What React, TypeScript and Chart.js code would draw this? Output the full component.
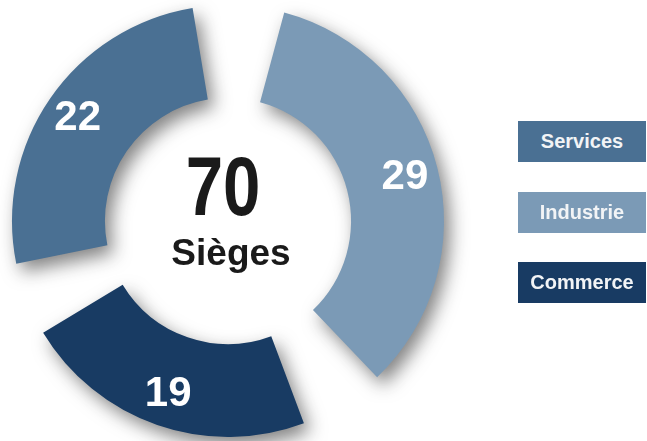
import React, { useEffect, useRef } from "react";
import { Chart, registerables } from "chart.js";

Chart.register(...registerables);

const categories = ["Services", "Industrie", "Commerce"];
const seats = [22, 29, 19];
const colors = ["#4a7093", "#7b9ab6", "#183b63"];
const centerCaption = "Sièges";

const FONT = "'Liberation Sans', Arial, Helvetica, sans-serif";

const labelPlugin = {
  id: "ringDecor",
  beforeDatasetsDraw(chart: any) {
    const ctx = chart.ctx;
    ctx.save();
    ctx.shadowColor = "rgba(30,30,30,0.55)";
    ctx.shadowBlur = 18;
    ctx.shadowOffsetX = 6;
    ctx.shadowOffsetY = 8;
  },
  afterDatasetsDraw(chart: any) {
    const ctx = chart.ctx;
    ctx.restore();
    const meta = chart.getDatasetMeta(0);
    const ds = chart.data.datasets[0];
    const half = (ds.spacing || 0) / 2;
    ctx.save();
    ctx.fillStyle = "#ffffff";
    ctx.font = `bold 42px ${FONT}`;
    ctx.textAlign = "center";
    ctx.textBaseline = "middle";
    meta.data.forEach((arc: any, i: number) => {
      const p = arc.getProps(["x", "y", "startAngle", "endAngle", "innerRadius", "outerRadius"], true);
      const mid = (p.startAngle + p.endAngle) / 2;
      const inner = p.innerRadius + half;
      const outer = p.outerRadius + half;
      const r = inner + 0.64 * (outer - inner);
      ctx.fillText(String(ds.data[i]), p.x + Math.cos(mid) * r, p.y + Math.sin(mid) * r + 1);
    });
    // centre total
    const first = meta.data[0];
    const cx = first.x;
    const cy = first.y;
    const total = (ds.data as number[]).reduce((a, b) => a + b, 0);
    ctx.fillStyle = "#1a1a1a";
    ctx.textBaseline = "alphabetic";
    ctx.save();
    ctx.translate(cx - 5, cy - 6);
    ctx.scale(0.8, 1);
    ctx.font = `bold 84px ${FONT}`;
    ctx.fillText(String(total), 0, 0);
    ctx.restore();
    ctx.font = `bold 37px ${FONT}`;
    ctx.fillText(centerCaption, cx + 3, cy + 44);
    ctx.restore();
  },
};

export default function App() {
  const ref = useRef<HTMLCanvasElement | null>(null);
  useEffect(() => {
    if (!ref.current) return;
    const chart = new Chart(ref.current, {
      type: "doughnut",
      data: {
        labels: categories,
        datasets: [
          {
            data: seats,
            backgroundColor: colors,
            borderWidth: 0,
            spacing: 58,
            hoverOffset: 0,
          } as any,
        ],
      },
      options: {
        responsive: false,
        animation: false,
        rotation: 248,
        cutout: "50.3%",
        layout: { padding: { left: 12, top: 5, right: 203, bottom: 4 } },
        plugins: {
          legend: { display: false },
          tooltip: { enabled: false },
        },
        events: [],
      },
      plugins: [labelPlugin],
    });
    return () => chart.destroy();
  }, []);

  return (
    <div style={{ position: "fixed", left: 0, top: 0, width: 647, height: 441, background: "#ffffff", overflow: "hidden" }}>
      <canvas ref={ref} width={647} height={441} style={{ position: "absolute", left: 0, top: 0 }} />
      {categories.map((c, i) => (
        <div
          key={c}
          style={{
            position: "absolute",
            left: 518,
            top: [121, 192, 262][i],
            width: 128,
            height: 41,
            background: colors[i],
            color: "#f2f4f6",
            fontFamily: FONT,
            fontWeight: "bold",
            fontSize: 20,
            display: "flex",
            alignItems: "center",
            justifyContent: "center",
          }}
        >
          {c}
        </div>
      ))}
    </div>
  );
}
